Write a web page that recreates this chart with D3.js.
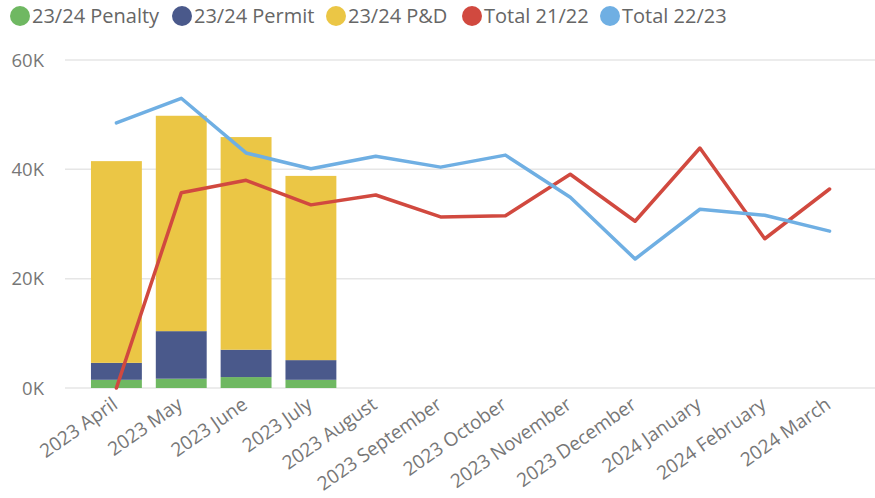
<!DOCTYPE html>
<html><head><meta charset="utf-8">
<script src="https://cdn.jsdelivr.net/npm/d3@7"></script>
<style>body{margin:0;background:#fff}svg{display:block}text{font-family:"Open Sans",sans-serif}</style>
</head><body><svg id="c" width="875" height="498"></svg>
<script>
const months = ["2023 April","2023 May","2023 June","2023 July","2023 August","2023 September","2023 October","2023 November","2023 December","2024 January","2024 February","2024 March"];
const penalty = [1500,1700,2000,1500];
const permit = [3100,8700,5000,3600];
const pd = [36900,39400,38900,33700];
const total2122 = [0,35700,38000,33500,35300,31300,31500,39100,30500,43900,27300,36400];
const total2223 = [48500,53000,43000,40100,42400,40400,42600,34900,23600,32700,31600,28700];
const yTicks = [0,20000,40000,60000];
const seriesNames = ["23/24 Penalty","23/24 Permit","23/24 P&D","Total 21/22","Total 22/23"];
const colors = ["#6FB862","#4A598B","#EBC645","#D1493F","#6FAFE3"];

const svg = d3.select("#c");
const x = d3.scaleBand().domain(months).range([84,862]).paddingInner(0.215).paddingOuter(0.1075);
const y = d3.scaleLinear().domain([0,60000]).range([388,60]);

// grid
svg.append("g").selectAll("line").data(yTicks).join("line")
  .attr("x1",65).attr("x2",875).attr("y1",d=>y(d)).attr("y2",d=>y(d))
  .attr("stroke","#e6e6e6").attr("stroke-width",1.5);
svg.append("g").selectAll("text").data(yTicks).join("text")
  .attr("x",44).attr("y",d=>y(d)).attr("dy","0.36em").attr("text-anchor","end")
  .attr("fill","#777").attr("font-size",18.5).text(d=>d/1000+"K");

// stacked bars
const barData = penalty.map((p,i)=>({m:months[i],penalty:p,permit:permit[i],pd:pd[i]}));
const stack = d3.stack().keys(["penalty","permit","pd"])(barData);
svg.append("g").selectAll("g").data(stack).join("g").attr("fill",(d,i)=>colors[i])
  .selectAll("rect").data(d=>d).join("rect")
  .attr("x",d=>x(d.data.m)).attr("width",x.bandwidth())
  .attr("y",d=>y(d[1])).attr("height",d=>y(d[0])-y(d[1]));

// lines
const line = d3.line().x((d,i)=>x(months[i])+x.bandwidth()/2).y(d=>y(d));
[[total2122,colors[3]],[total2223,colors[4]]].forEach(([vals,c])=>{
  svg.append("path").attr("d",line(vals)).attr("fill","none").attr("stroke",c)
    .attr("stroke-width",3.5).attr("stroke-linejoin","round").attr("stroke-linecap","round");
});

// x labels
svg.append("g").selectAll("text").data(months).join("text")
  .attr("transform",d=>`translate(${x(d)+x.bandwidth()/2-4},${398}) rotate(-35)`)
  .attr("text-anchor","end").attr("dy","0.6em").attr("fill","#777").attr("font-size",19).text(d=>d);

// legend
const legX = [20,182,336,472,610];
const lg = svg.append("g").selectAll("g").data(seriesNames).join("g")
  .attr("transform",(d,i)=>`translate(${legX[i]},16)`);
lg.append("circle").attr("r",10).attr("fill",(d,i)=>colors[i]);
lg.append("text").attr("x",12).attr("dy","0.36em").attr("fill","#666").attr("font-size",20).text(d=>d);
</script></body></html>
